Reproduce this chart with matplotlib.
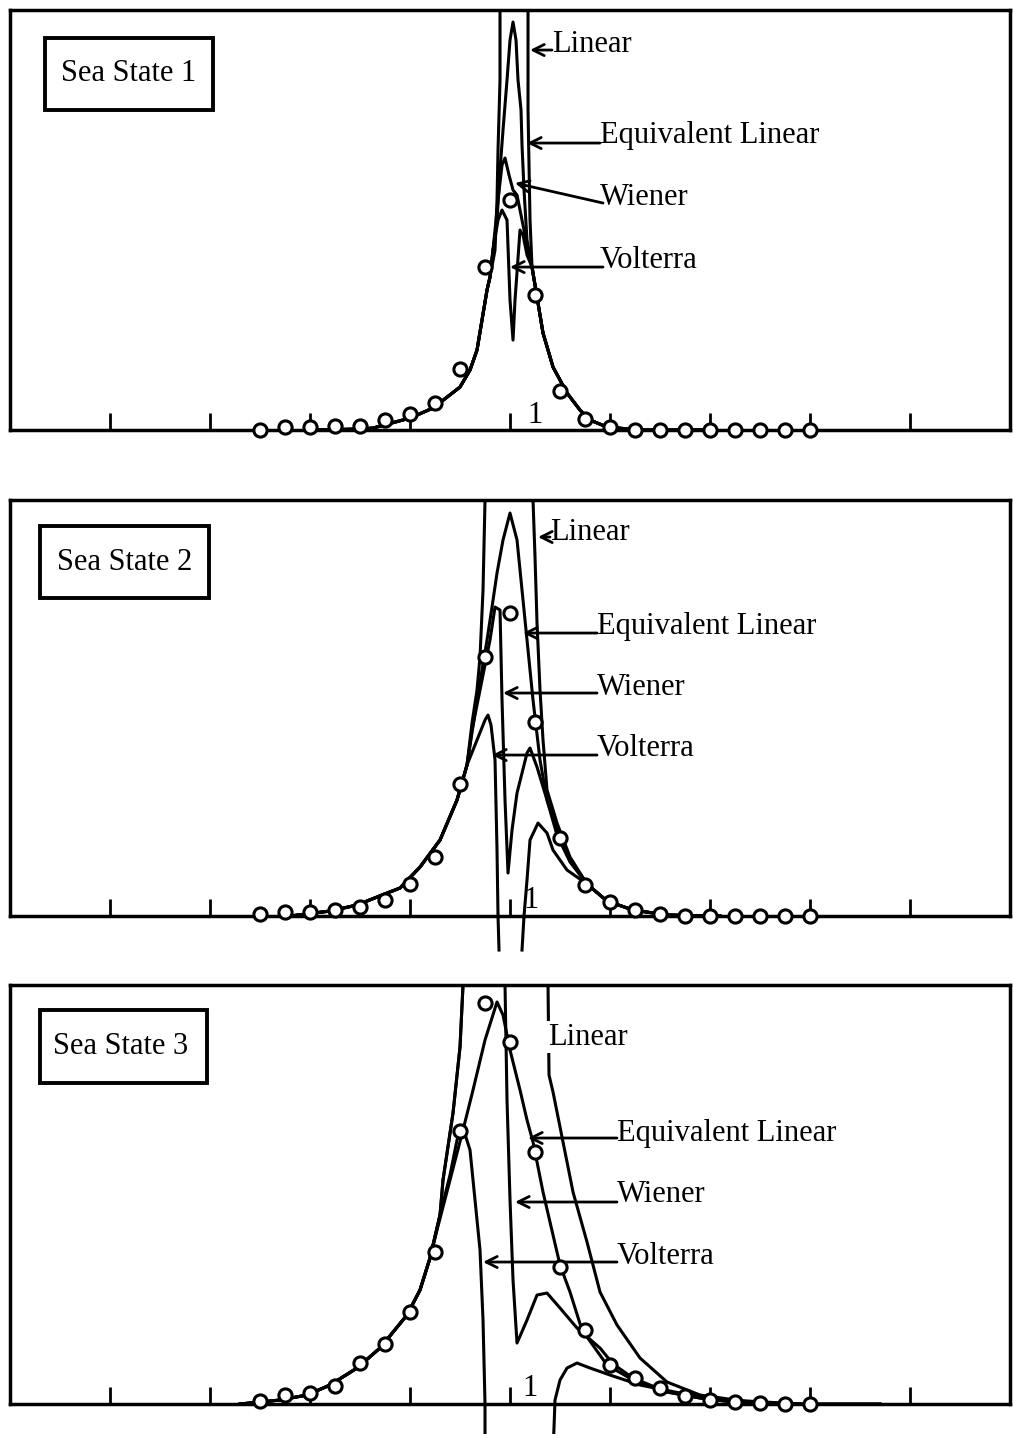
import numpy as np
import matplotlib
matplotlib.use('Agg')
import matplotlib.pyplot as plt
from matplotlib.patches import Rectangle
from matplotlib.transforms import Bbox, TransformedBbox

plt.rcParams['font.family'] = ['Liberation Serif', 'DejaVu Serif']

nan = np.nan

# frequency ratio of the simulated points (circles)
x_sim = [0.50, 0.55, 0.60, 0.65, 0.70, 0.75, 0.80, 0.85, 0.90, 0.95, 1.00, 1.05,
         1.10, 1.15, 1.20, 1.25, 1.30, 1.35, 1.40, 1.45, 1.50, 1.55, 1.60]

# ---------------- Sea State 1 ----------------
sim1 = [0.00, 0.03, 0.03, 0.04, 0.04, 0.10, 0.16, 0.27, 0.61, 1.63, 2.30, 1.35,
        0.39, 0.11, 0.03, 0.00, 0.00, 0.00, 0.00, 0.00, 0.00, 0.00, 0.00]
tail1_lx = [0.60, 0.70, 0.726, 0.80, 0.846, 0.90, 0.92, 0.934, 0.944, 0.954, 0.96]
tail1_ly = [0.00, 0.01, 0.02, 0.12, 0.22, 0.43, 0.60, 0.80, 1.10, 1.40, 1.53]
tail1_rx = [1.044, 1.054, 1.066, 1.086, 1.114, 1.14, 1.16, 1.194, 1.26, 1.40]
tail1_ry = [1.63, 1.33, 0.97, 0.63, 0.37, 0.20, 0.10, 0.03, 0.00, 0.00]
lin1_x = [0.97, 0.974, 0.976, 0.98, 0.98, 1.036, 1.036, 1.04]
lin1_y = [1.80, 2.30, 2.80, 3.50, 4.60, 4.60, 3.20, 2.10]
eql1_x = [0.966, 0.974, 0.98, 0.986, 0.994, 1.0, 1.006, 1.012, 1.016, 1.022, 1.024, 1.028, 1.034]
eql1_y = [1.80, 2.10, 2.60, 3.00, 3.50, 3.90, 4.08, 3.90, 3.50, 3.20, 2.85, 2.40, 1.90]
wie1_x = [0.966, 0.976, 0.984, 0.99, 0.998, 1.006, 1.014, 1.02, 1.028, 1.036]
wie1_y = [1.80, 2.30, 2.65, 2.72, 2.55, 2.40, 2.35, 2.20, 2.00, 1.75]
vol1_x = [0.966, 0.976, 0.984, 0.994, 1.0, 1.006, 1.01, 1.02, 1.026, 1.034]
vol1_y = [1.80, 2.10, 2.20, 2.10, 1.30, 0.90, 1.30, 2.00, 1.95, 1.75]

# ---------------- Sea State 2 ----------------
sim2 = [0.02, 0.04, 0.04, 0.06, 0.09, 0.16, 0.32, 0.59, 1.32, 2.59, 3.03, 1.94,
        0.78, 0.31, 0.14, 0.06, 0.02, 0.00, 0.00, 0.00, 0.00, 0.00, 0.00]
tail2_lx = [0.56, 0.64, 0.694, 0.744, 0.78, 0.82, 0.86, 0.894, 0.914]
tail2_ly = [0.00, 0.05, 0.11, 0.21, 0.28, 0.49, 0.76, 1.16, 1.51]
tail2_rx = [1.154, 1.194, 1.246, 1.314, 1.42]
tail2_ry = [0.32, 0.15, 0.06, 0.01, 0.00]
lin2_x = [0.924, 0.934, 0.94, 0.946, 0.95, 0.95, 1.046, 1.046, 1.05, 1.054, 1.06, 1.066, 1.074, 1.094, 1.12]
lin2_y = [1.93, 2.26, 2.59, 3.26, 4.16, 4.60, 4.60, 4.16, 3.59, 2.93, 2.26, 1.76, 1.26, 0.93, 0.59]
eql2_x = [0.934, 0.954, 0.964, 0.974, 0.986, 1.0, 1.014, 1.024, 1.034, 1.046, 1.06, 1.074, 1.094, 1.12]
eql2_y = [2.16, 2.76, 3.09, 3.43, 3.76, 4.03, 3.76, 3.26, 2.76, 2.16, 1.56, 1.16, 0.81, 0.54]
wie2_x = [0.924, 0.944, 0.96, 0.97, 0.98, 0.984, 0.99, 0.996, 1.004, 1.014, 1.034, 1.04, 1.054, 1.074, 1.094, 1.12]
wie2_y = [1.86, 2.36, 2.76, 3.09, 3.06, 2.16, 1.16, 0.43, 0.86, 1.23, 1.63, 1.68, 1.49, 1.16, 0.86, 0.56]
vol2_x = [0.934, 0.95, 0.956, 0.962, 0.97, 0.974, 0.976, 0.978, nan,
          1.024, 1.028, 1.034, 1.04, 1.056, 1.074, 1.086, 1.114]
vol2_y = [1.76, 1.96, 2.01, 1.91, 1.56, 0.66, 0.00, -0.34, nan,
          -0.34, 0.00, 0.36, 0.76, 0.93, 0.83, 0.66, 0.46]

# ---------------- Sea State 3 ----------------
sim3 = [0.03, 0.09, 0.11, 0.18, 0.41, 0.60, 0.92, 1.52, 2.73, 4.01, 3.62, 2.52,
        1.37, 0.74, 0.39, 0.26, 0.16, 0.08, 0.04, 0.02, 0.01, 0.00, 0.00]
tail3_lx = [0.46, 0.48, 0.54, 0.594, 0.64, 0.694, 0.74, 0.794, 0.82, 0.84]
tail3_ly = [0.00, 0.01, 0.04, 0.09, 0.19, 0.36, 0.56, 0.89, 1.14, 1.46]
tail3_rx = [1.314, 1.38, 1.446, 1.54, 1.74]
tail3_ry = [0.12, 0.06, 0.02, 0.00, 0.00]
lin3_x = [0.86, 0.866, 0.886, 0.90, 0.906, 0.906, 1.076, 1.076, 1.078, 1.086, 1.106, 1.126,
          1.154, 1.18, 1.214, 1.26, 1.314, 1.38, 1.48, 1.58]
lin3_y = [1.89, 2.24, 2.91, 3.57, 4.19, 4.60, 4.60, 4.19, 3.29, 3.12, 2.62, 2.12,
          1.62, 1.12, 0.79, 0.46, 0.22, 0.09, 0.02, 0.00]
eql3_x = [0.854, 0.88, 0.906, 0.926, 0.95, 0.974, 0.986, 1.0, 1.02, 1.034, 1.046, 1.066,
          1.086, 1.10, 1.12, 1.144, 1.194, 1.246]
eql3_y = [1.74, 2.24, 2.74, 3.14, 3.64, 4.02, 3.89, 3.54, 3.14, 2.84, 2.62, 2.12,
          1.69, 1.39, 1.12, 0.74, 0.39, 0.24]
wie3_x = [0.86, 0.866, 0.886, 0.90, 0.906, 0.906, 0.99, 0.99, 0.994, 1.0, 1.006, 1.014,
          1.034, 1.054, 1.074, 1.10, 1.134, 1.18, 1.206, 1.246]
wie3_y = [1.89, 2.24, 2.91, 3.57, 4.19, 4.60, 4.60, 4.19, 3.04, 2.04, 1.24, 0.61,
          0.84, 1.09, 1.11, 0.96, 0.76, 0.56, 0.40, 0.26]
vol3_x = [0.86, 0.88, 0.894, 0.906, 0.92, 0.93, 0.94, 0.946, 0.95, 0.95, nan,
          1.086, 1.09, 1.10, 1.114, 1.134, 1.16, 1.20, 1.26, 1.34, 1.44, 1.58]
vol3_y = [1.89, 2.29, 2.64, 2.76, 2.54, 2.04, 1.54, 0.84, 0.00, -0.50, nan,
          -0.50, 0.04, 0.24, 0.36, 0.41, 0.36, 0.29, 0.19, 0.11, 0.04, 0.00]

labels = ['Linear', 'Equivalent Linear', 'Wiener', 'Volterra']
titles = ['Sea State 1', 'Sea State 2', 'Sea State 3']
x_ticks = [0.2, 0.4, 0.6, 0.8, 1.0, 1.2, 1.4, 1.6, 1.8]
y_top = [4.20, 4.16, 4.19]

# label text position, arrow tail, arrow head (None = no arrow)
notes = [
    [((1.084, 3.86), (1.084, 3.80), (1.040, 3.80)),
     ((1.180, 2.95), (1.180, 2.87), (1.034, 2.87)),
     ((1.180, 2.33), (1.186, 2.27), (1.010, 2.47)),
     ((1.180, 1.70), (1.186, 1.63), (1.000, 1.63))],
    [((1.080, 3.84), (1.080, 3.79), (1.056, 3.79)),
     ((1.174, 2.90), (1.174, 2.83), (1.026, 2.83)),
     ((1.174, 2.29), (1.174, 2.23), (0.986, 2.23)),
     ((1.174, 1.68), (1.174, 1.61), (0.964, 1.61))],
    [((1.076, 3.67), None, None),
     ((1.214, 2.71), (1.214, 2.66), (1.036, 2.66)),
     ((1.214, 2.10), (1.214, 2.02), (1.010, 2.02)),
     ((1.214, 1.48), (1.214, 1.42), (0.946, 1.42))],
]
boxes = [(0.035, 0.762, 0.168, 0.171, 0.119, 0.848),
         (0.030, 0.764, 0.169, 0.173, 0.115, 0.851),
         (0.030, 0.766, 0.167, 0.174, 0.111, 0.854)]
one_pos = [(1.05, 0.15), (1.042, 0.16), (1.04, 0.16)]

panels = [
    (sim1, (tail1_lx, tail1_ly), (tail1_rx, tail1_ry),
     [(lin1_x, lin1_y), (eql1_x, eql1_y), (wie1_x, wie1_y), (vol1_x, vol1_y)], [True, True, True, True]),
    (sim2, (tail2_lx, tail2_ly), (tail2_rx, tail2_ry),
     [(lin2_x, lin2_y), (eql2_x, eql2_y), (wie2_x, wie2_y), (vol2_x, vol2_y)], [True, True, True, True]),
    (sim3, (tail3_lx, tail3_ly), (tail3_rx, tail3_ry),
     [(lin3_x, lin3_y), (eql3_x, eql3_y), (wie3_x, wie3_y), (vol3_x, vol3_y)], [False, True, True, False]),
]

# axes rectangles in figure fraction (left, bottom, width, height)
rects = [(0.00987, 0.7001, 0.9872, 0.2929),
         (0.00987, 0.3612, 0.9872, 0.2901),
         (0.00987, 0.0209, 0.9872, 0.2922)]

fig = plt.figure(figsize=(10.13, 14.34), dpi=100)

for k in range(3):
    ax = fig.add_axes(rects[k])
    sim, tl, tr, curves, use_rtail = panels[k]
    clip = TransformedBbox(Bbox([[0, -1], [1, 1]]), ax.transAxes)

    for c, (cx, cy) in enumerate(curves):
        xs = list(tl[0]) + list(cx)
        ys = list(tl[1]) + list(cy)
        if use_rtail[c]:
            xs += list(tr[0])
            ys += list(tr[1])
        ln, = ax.plot(xs, ys, color='black', lw=2.2, solid_joinstyle='round')
        ln.set_clip_box(clip)

    ax.plot(x_sim, sim, 'o', ms=9.5, mfc='white', mec='black', mew=2.2, zorder=4, clip_on=False)

    ax.set_xlim(0, 2)
    ax.set_ylim(0, y_top[k])
    ax.set_xticks(x_ticks)
    ax.set_yticks([])
    ax.tick_params(axis='x', direction='in', length=12, width=2, labelbottom=False)
    for sp in ax.spines.values():
        sp.set_linewidth(2.5)

    for lab, (tpos, tail, head) in zip(labels, notes[k]):
        bb = dict(facecolor='white', edgecolor='none', pad=1) if head is None else None
        ax.text(tpos[0], tpos[1], lab, fontsize=22, ha='left', va='center', zorder=5, bbox=bb)
        if head is not None:
            ax.annotate('', xy=head, xytext=tail,
                        arrowprops=dict(arrowstyle='->', lw=2, color='black',
                                        shrinkA=0, shrinkB=0, mutation_scale=20))

    bx, by, bw, bh, tx, ty = boxes[k]
    ax.add_patch(Rectangle((bx, by), bw, bh, transform=ax.transAxes, fill=False,
                           lw=2.8, edgecolor='black'))
    ax.text(tx, ty, titles[k], transform=ax.transAxes, fontsize=22, ha='center', va='center')

    ax.text(one_pos[k][0], one_pos[k][1], '1', fontsize=22, ha='center', va='center')

fig.savefig('out.png', dpi=100)
